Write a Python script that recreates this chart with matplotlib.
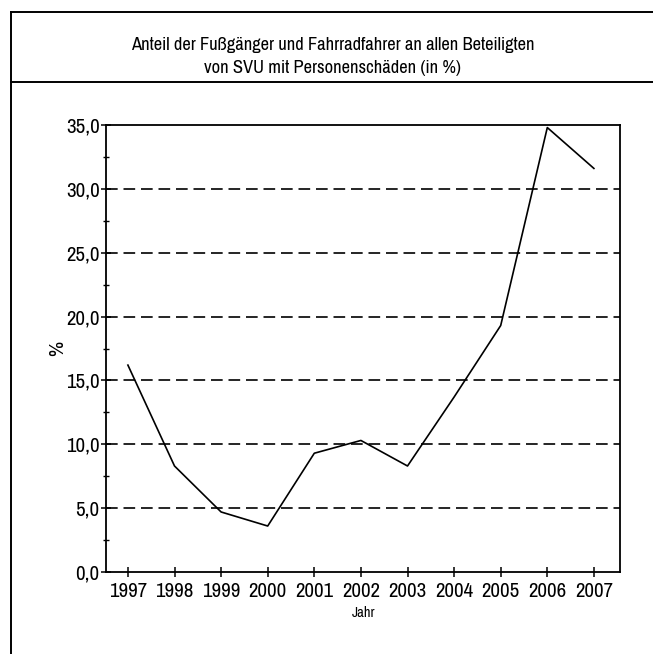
import matplotlib
matplotlib.use("Agg")
import matplotlib.pyplot as plt
from matplotlib.lines import Line2D
from matplotlib.ticker import MultipleLocator, FuncFormatter

plt.rcParams['font.family'] = ['Archivo Narrow', 'Roboto Condensed', 'DejaVu Sans']
plt.rcParams['font.weight'] = 'semibold'

years = [1997, 1998, 1999, 2000, 2001, 2002, 2003, 2004, 2005, 2006, 2007]
share = [16.2, 8.3, 4.7, 3.6, 9.3, 10.3, 8.3, 13.7, 19.3, 34.8, 31.6]
title_lines = ["Anteil der Fußgänger und Fahrradfahrer an allen Beteiligten",
               "von SVU mit Personenschäden (in %)"]

W, H = 653, 654
fig = plt.figure(figsize=(W / 100, H / 100), dpi=100)

def fx(px):
    return px / W

def fy(py):
    return 1 - py / H

# outer frame and title box
for (x0, y0, x1, y1) in [(11, 12, W, 12), (11, 82, W, 82), (11, 12, 11, H)]:
    fig.add_artist(Line2D([fx(x0), fx(x1)], [fy(y0), fy(y1)], color='black', lw=1.4))

fig.text(fx(333), fy(45), title_lines[0], ha='center', va='center', fontsize=13.3)
fig.text(fx(333), fy(68), title_lines[1], ha='center', va='center', fontsize=13.3)

ax = fig.add_axes([fx(106), fy(572), fx(620) - fx(106), fy(125) - fy(572)])
ax.plot(years, share, color='black', lw=1.2)

ax.set_xlim(1996.53, 2007.56)
ax.set_ylim(0, 35)
ax.set_xticks(years)
ax.yaxis.set_major_locator(MultipleLocator(5))
ax.yaxis.set_minor_locator(MultipleLocator(2.5))
ax.yaxis.set_major_formatter(FuncFormatter(lambda v, p: f"{v:.1f}".replace('.', ',')))

for v in range(5, 35, 5):
    ax.axhline(v, color='black', lw=1.2, dashes=(7, 3.5), zorder=0)

for s in ax.spines.values():
    s.set_linewidth(1.3)

ax.tick_params(axis='both', which='major', direction='inout', length=7, width=1.1,
               labelsize=15, pad=1)
ax.tick_params(axis='y', which='minor', direction='inout', length=5, width=1.0)
ax.tick_params(axis='x', pad=4)

ax.set_ylabel('%', fontsize=15, fontweight='bold', labelpad=-1)
ax.set_xlabel('Jahr', fontsize=10.5, fontweight='bold', labelpad=3)

fig.savefig('out.png', dpi=100)
